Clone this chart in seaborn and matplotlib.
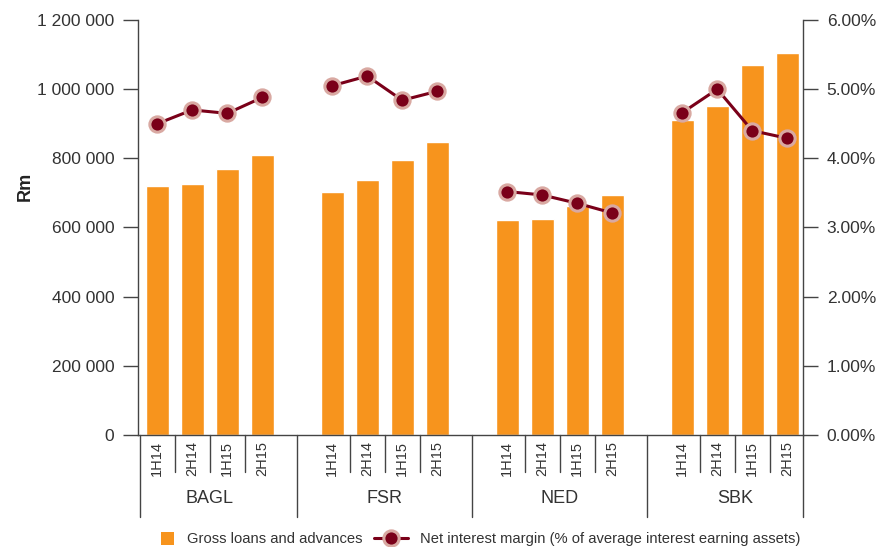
import numpy as np
import pandas as pd
import seaborn as sns
import matplotlib.pyplot as plt
from matplotlib.patches import Patch, Rectangle
from matplotlib.lines import Line2D
from matplotlib.legend_handler import HandlerPatch
from matplotlib.ticker import FuncFormatter, MultipleLocator

sns.set_theme(style='white')
plt.rcParams['font.family'] = ['Liberation Sans', 'DejaVu Sans']

banks = ['BAGL', 'FSR', 'NED', 'SBK']
periods = ['1H14', '2H14', '1H15', '2H15']
# gross loans and advances, Rm
loans_bagl = [720000, 726000, 769000, 810000]
loans_fsr = [703000, 737000, 795000, 847000]
loans_ned = [622000, 625000, 663000, 694000]
loans_sbk = [911000, 951000, 1070000, 1105000]
# net interest margin, %
nim_bagl = [4.50, 4.70, 4.65, 4.88]
nim_fsr = [5.05, 5.19, 4.84, 4.97]
nim_ned = [3.52, 3.47, 3.35, 3.21]
nim_sbk = [4.66, 5.00, 4.40, 4.29]

orange = '#F7941D'
maroon = '#7A0019'
pink = '#D9A9A2'
txt = '#333333'

rows = []
for g, (b, lo, ni) in enumerate(zip(banks,
                                    [loans_bagl, loans_fsr, loans_ned, loans_sbk],
                                    [nim_bagl, nim_fsr, nim_ned, nim_sbk])):
    for i, p in enumerate(periods):
        rows.append({'bank': b, 'period': p, 'pos': g * 5 + i, 'loans': lo[i], 'nim': ni[i]})
df = pd.DataFrame(rows)

fig = plt.figure(figsize=(8.81, 5.47), dpi=100)
ax = fig.add_axes([0.1566, 0.2048, 0.7549, 0.7586])

sns.barplot(data=df, x='pos', y='loans', native_scale=True, width=0.66,
            color=orange, saturation=1, ax=ax)
ax.set_xlim(-0.55, 18.45)
ax.set_ylim(0, 1200000)
ax.yaxis.set_major_locator(MultipleLocator(200000))
ax.yaxis.set_major_formatter(FuncFormatter(lambda v, p: f'{v:,.0f}'.replace(',', ' ')))
ax.set_xlabel('')
ax.set_ylabel('Rm', fontsize=13, fontweight='bold', color='#222222')
ax.yaxis.set_label_coords(-0.156, 0.598)

ax.set_xticks(df['pos'])
ax.set_xticklabels(df['period'], rotation=90, fontsize=10.5, color=txt)
ax.tick_params(axis='x', length=0, pad=4)
ax.tick_params(axis='y', left=True, length=11, width=1, color='#444444',
               labelsize=12.5, labelcolor=txt, pad=6)

for s in ['top', 'right']:
    ax.spines[s].set_visible(False)
for s in ['left', 'bottom']:
    ax.spines[s].set_color('#444444')
    ax.spines[s].set_linewidth(1)

ax2 = ax.twinx()
sns.lineplot(data=df, x='pos', y='nim', hue='bank', palette=[maroon] * 4,
             legend=False, lw=2.2, marker='o', markersize=11,
             markerfacecolor=maroon, markeredgecolor=pink, markeredgewidth=2.2,
             ax=ax2)
ax2.set_ylim(0, 6)
ax2.yaxis.set_major_locator(MultipleLocator(1))
ax2.yaxis.set_major_formatter(FuncFormatter(lambda v, p: f'{v:.2f}%'))
ax2.set_ylabel('')
ax2.tick_params(axis='y', right=True, length=11, width=1, color='#444444',
                labelsize=12.5, labelcolor=txt, pad=6)
for s in ['top', 'left', 'bottom']:
    ax2.spines[s].set_visible(False)
ax2.spines['right'].set_color('#444444')
ax2.spines['right'].set_linewidth(1)

# category separators below the axis
tr = ax.get_xaxis_transform()
for g in range(4):
    for i in range(3):
        x = g * 5 + i + 0.5
        ax.plot([x, x], [0, -0.089], transform=tr, color='#444444', lw=1, clip_on=False)
    ax.text(g * 5 + 1.5, -0.152, banks[g], transform=tr, ha='center', va='center',
            fontsize=13, color=txt)
for x in [-0.5, 4, 9, 14, 18.45]:
    ax.plot([x, x], [0, -0.198], transform=tr, color='#444444', lw=1, clip_on=False)


def square_patch(legend, orig_handle, xdescent, ydescent, width, height, fontsize):
    return Rectangle((-xdescent, -ydescent), height, height)


leg_kw = dict(loc='center left', frameon=False, fontsize=10.6, borderpad=0,
              borderaxespad=0, handleheight=1.0, labelcolor=txt)
fig.legend([Patch(facecolor=orange, edgecolor='none')], ['Gross loans and advances'],
           bbox_to_anchor=(0.1827, 0.0146), handlelength=1.0, handletextpad=0.75,
           handler_map={Patch: HandlerPatch(patch_func=square_patch)}, **leg_kw)
fig.legend([Line2D([], [], color=maroon, lw=2.2, marker='o', markersize=11,
                   markerfacecolor=maroon, markeredgecolor=pink, markeredgewidth=2.2)],
           ['Net interest margin (% of average interest earning assets)'],
           bbox_to_anchor=(0.4245, 0.0146), handlelength=2.3, handletextpad=0.8,
           **leg_kw)

fig.savefig('out.png', dpi=100)
